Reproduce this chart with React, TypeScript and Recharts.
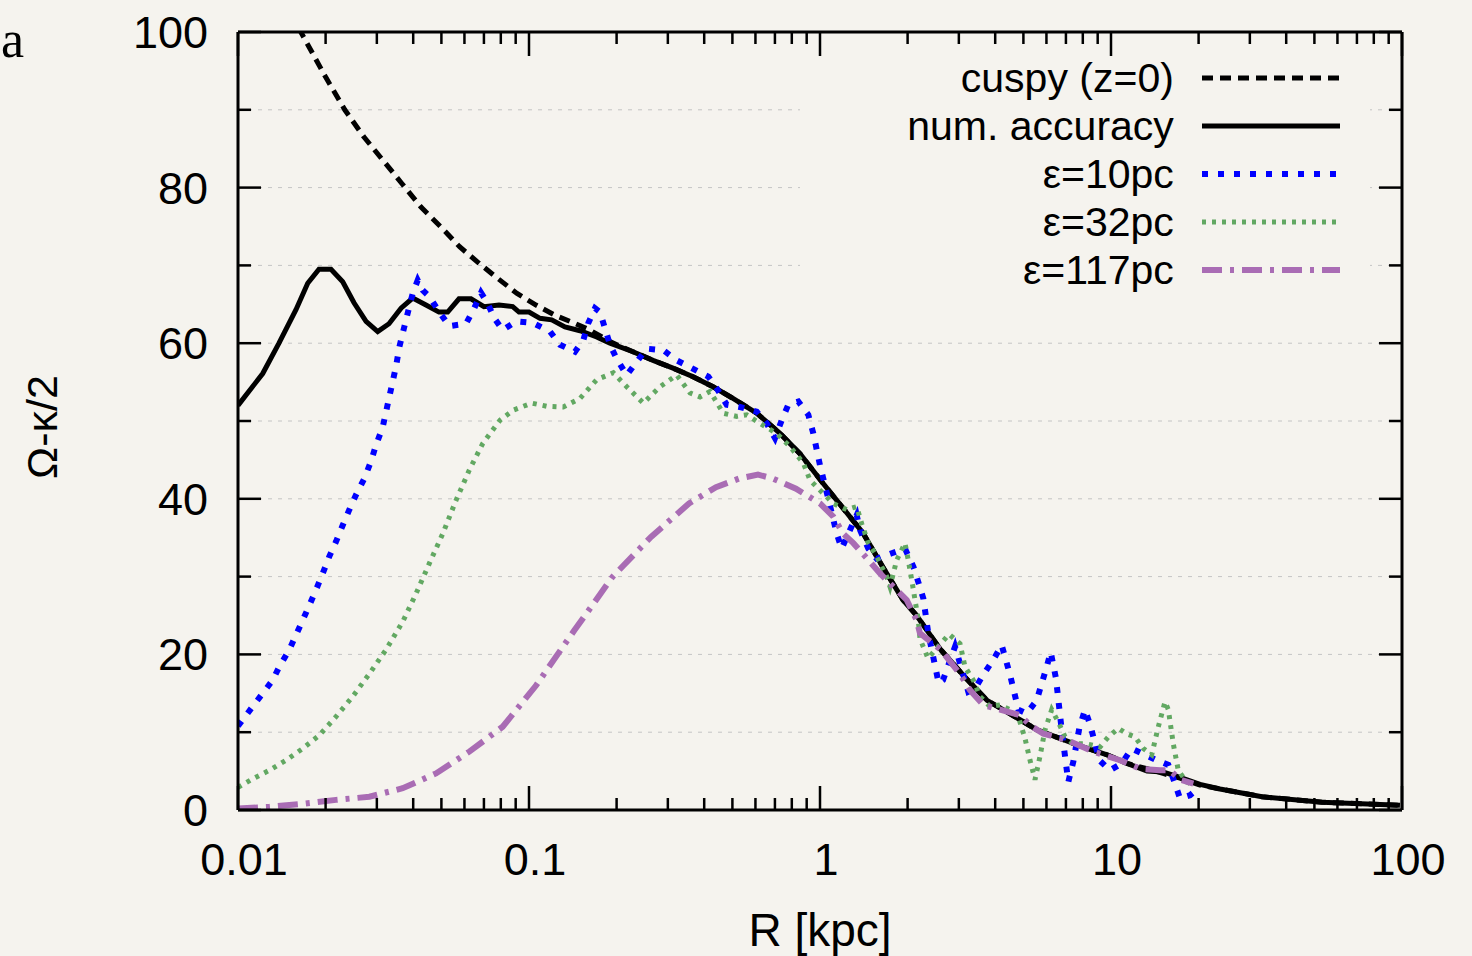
import { LineChart, Line, XAxis, YAxis, CartesianGrid } from 'recharts';

const BG = '#f5f3ee';
const FONT = '"Liberation Sans", Arial, Helvetica, sans-serif';

// [R (kpc), Omega - kappa/2]
const cuspy: [number, number][] = [
  [0.01509, 102.6], [0.01644, 100], [0.02001, 94.2], [0.02328, 90.0], [0.0271, 86.5],
  [0.0315, 83.5], [0.03662, 80.5], [0.04255, 77.5], [0.04964, 75.0], [0.05774, 72.4],
  [0.06722, 70.3], [0.07826, 68.3], [0.09095, 66.4], [0.1057, 64.9], [0.1228, 63.6],
  [0.1427, 62.6], [0.1617, 61.7], [0.1898, 60.2], [0.2277, 58.9], [0.2668, 57.8],
  [0.3125, 56.8], [0.3661, 55.7], [0.429, 54.4], [0.5023, 52.9], [0.6062, 51.0],
  [0.7288, 48.4], [0.8536, 45.8], [1.024, 42.0], [1.2, 38.8], [1.405, 35.6],
  [1.646, 31.2], [1.929, 27.0], [2.148, 25.0], [2.445, 22.0], [2.599, 20.6],
  [3.145, 17.1], [3.75, 14.1], [4.255, 12.9], [4.867, 11.6], [5.568, 10.3],
  [6.678, 9.2], [8.013, 8.1], [9.69, 7.1], [11.35, 6.0], [13.3, 5.3], [15.09, 4.7],
  [17.26, 4.1], [20.23, 3.2], [23.69, 2.7], [33.03, 1.7], [53.09, 1.0], [98.4, 0.6],
];

const numAccuracy: [number, number][] = [
  [0.01, 52.0], [0.01216, 56.1], [0.01383, 60.0], [0.01582, 64.3], [0.01736, 67.7],
  [0.01898, 69.5], [0.02087, 69.5], [0.0229, 67.9], [0.02504, 65.2], [0.02754, 62.8],
  [0.03021, 61.5], [0.03303, 62.5], [0.03633, 64.5], [0.03985, 65.8], [0.04426, 64.9],
  [0.04905, 64.0], [0.05255, 64.0], [0.05747, 65.7], [0.06319, 65.7], [0.07004, 64.7],
  [0.07887, 64.9], [0.0879, 64.7], [0.0924, 64.0], [0.1, 64.0], [0.1091, 63.2],
  [0.1197, 63.0], [0.1329, 62.1], [0.1497, 61.6], [0.1708, 60.8], [0.1898, 60.0],
  [0.2277, 58.9], [0.2668, 57.8], [0.3125, 56.8], [0.3661, 55.7], [0.429, 54.4],
  [0.5023, 52.9], [0.6062, 51.0], [0.7288, 48.4], [0.8536, 45.8], [1.024, 42.0],
  [1.2, 38.8], [1.405, 35.6], [1.646, 31.2], [1.929, 27.0], [2.148, 25.0],
  [2.445, 22.0], [2.599, 20.6], [3.145, 17.1], [3.75, 14.1], [4.255, 12.9],
  [4.867, 11.6], [5.568, 10.3], [6.678, 9.2], [8.013, 8.1], [9.69, 7.1],
  [11.35, 6.0], [13.3, 5.0], [15.09, 4.9], [17.26, 4.2], [20.23, 3.3],
  [23.69, 2.7], [33.03, 1.7], [53.09, 1.0], [98.4, 0.6],
];

const eps10: [number, number][] = [
  [0.01, 10.8], [0.01123, 13.3], [0.01216, 15.0], [0.01316, 16.7], [0.01386, 18.4],
  [0.01501, 20.6], [0.01582, 22.5], [0.01669, 24.4], [0.01758, 26.3], [0.01854, 28.3],
  [0.01955, 30.4], [0.0206, 32.6], [0.02172, 34.5], [0.0229, 36.6], [0.02413, 38.6],
  [0.02544, 40.5], [0.02716, 42.6], [0.02864, 44.8], [0.0298, 46.9], [0.03142, 49.2],
  [0.03311, 53.1], [0.03491, 57.0], [0.03584, 59.5], [0.03728, 62.1], [0.03879, 64.7],
  [0.03985, 66.4], [0.04145, 68.1], [0.04312, 66.8], [0.04545, 66.0], [0.04918, 64.0],
  [0.05322, 62.2], [0.06074, 62.5], [0.06486, 64.5], [0.06841, 66.5], [0.07213, 65.1],
  [0.076, 63.2], [0.08121, 61.7], [0.09022, 62.8], [0.1032, 62.6], [0.1181, 61.5],
  [0.1278, 59.8], [0.1439, 58.9], [0.1537, 60.4], [0.1599, 62.6], [0.1686, 64.5],
  [0.1754, 64.0], [0.1825, 61.9], [0.1898, 59.8], [0.2001, 58.0], [0.2167, 55.9],
  [0.2345, 57.6], [0.2538, 59.3], [0.2894, 59.1], [0.3218, 57.8], [0.3624, 56.8],
  [0.4133, 55.7], [0.4416, 54.2], [0.478, 52.1], [0.5311, 51.8], [0.6062, 51.2],
  [0.6558, 49.7], [0.7005, 47.8], [0.7387, 50.1], [0.7784, 52.1], [0.8423, 52.5],
  [0.9117, 50.8], [0.9484, 48.4], [1.0, 44.3], [1.068, 40.0], [1.142, 35.5],
  [1.187, 33.6], [1.268, 36.0], [1.337, 37.9], [1.372, 36.0], [1.466, 33.6],
  [1.566, 32.3], [1.764, 33.0], [1.959, 33.6], [2.093, 31.3], [2.177, 29.3],
  [2.265, 27.2], [2.356, 22.7], [2.558, 16.3], [2.647, 16.7], [2.911, 21.0],
  [3.233, 15.2], [3.409, 15.6], [3.641, 17.4], [3.939, 19.3], [4.21, 21.2],
  [4.497, 17.4], [4.803, 12.9], [5.132, 12.4], [5.556, 14.1], [6.012, 18.4],
  [6.206, 20.3], [6.471, 16.9], [6.769, 10.3], [7.133, 3.6], [7.42, 6.2],
  [7.78, 10.5], [8.14, 12.9], [8.52, 10.7], [9.12, 6.4], [9.92, 5.1],
  [10.89, 6.0], [11.78, 7.9], [12.75, 7.3], [14.35, 6.4], [15.74, 5.8],
  [16.59, 3.4], [17.26, 1.5], [18.69, 1.9], [19.7, 2.6],
];

const eps32: [number, number][] = [
  [0.01, 2.9], [0.01123, 4.0], [0.01281, 5.1], [0.01462, 6.4], [0.01669, 7.9],
  [0.01903, 9.6], [0.02172, 12.0], [0.02479, 14.6], [0.02827, 17.5], [0.03226, 20.6],
  [0.03681, 24.2], [0.0409, 27.8], [0.04545, 31.7], [0.05052, 35.5], [0.05613, 39.8],
  [0.06235, 43.7], [0.06933, 47.1], [0.07949, 50.1], [0.08833, 51.4], [0.1022, 52.3],
  [0.115, 51.9], [0.1312, 51.8], [0.1497, 52.9], [0.1708, 55.3], [0.1949, 56.2],
  [0.2167, 54.4], [0.2471, 52.3], [0.2819, 54.4], [0.3218, 55.9], [0.3576, 53.6],
  [0.3869, 53.1], [0.4188, 53.8], [0.4653, 51.0], [0.5172, 50.6], [0.5599, 50.8],
  [0.6219, 49.7], [0.7099, 48.4], [0.7887, 46.7], [0.8762, 44.6], [0.9238, 42.4],
  [1.0, 41.1], [1.111, 39.4], [1.236, 38.6], [1.337, 39.0], [1.391, 36.8],
  [1.466, 34.3], [1.545, 33.0], [1.695, 30.0], [1.74, 28.7], [1.834, 32.1],
  [1.959, 34.3], [2.011, 32.1], [2.066, 29.6], [2.121, 27.0], [2.177, 24.4],
  [2.206, 22.0], [2.35, 19.5], [2.775, 22.6], [3.027, 21.4], [3.15, 18.4],
  [3.364, 16.7], [3.546, 14.6], [3.839, 13.3], [4.155, 13.5], [4.497, 12.9],
  [4.803, 12.0], [5.064, 9.2], [5.268, 6.4], [5.481, 3.9], [5.702, 6.9],
  [5.932, 10.3], [6.256, 12.9], [6.592, 11.3], [6.95, 9.4], [7.42, 8.5],
  [8.25, 8.5], [9.17, 8.1], [9.79, 9.4], [10.6, 10.5], [11.32, 9.8],
  [12.09, 9.4], [12.91, 7.9], [13.8, 7.1], [14.54, 10.7], [15.33, 13.9],
  [15.74, 12.9], [16.37, 8.5], [17.03, 5.1], [18.2, 3.6], [19.18, 3.2],
];

const eps117: [number, number][] = [
  [0.01, 0.2], [0.01281, 0.4], [0.01669, 0.8], [0.02172, 1.3], [0.02827, 1.7],
  [0.03681, 2.8], [0.04791, 4.7], [0.06235, 7.5], [0.08121, 10.7], [0.1057, 16.0],
  [0.1432, 23.1], [0.194, 30.0], [0.2626, 35.1], [0.3547, 39.4], [0.4392, 41.5],
  [0.5268, 42.6], [0.6123, 43.1], [0.6894, 42.6], [0.827, 41.3], [1.0, 39.4],
  [1.111, 37.7], [1.203, 35.5], [1.302, 34.3], [1.485, 31.9], [1.608, 30.4],
  [1.786, 28.7], [1.986, 27.0], [2.148, 24.4], [2.206, 22.7], [2.599, 20.6],
  [3.027, 17.5], [3.277, 15.4], [3.641, 13.5], [4.155, 12.9], [4.867, 12.2],
  [5.268, 10.9], [5.854, 9.8], [7.045, 9.0], [8.695, 7.5], [10.74, 6.4],
  [12.58, 5.3], [14.74, 5.1], [15.95, 5.1], [17.26, 3.9], [19.18, 3.4],
];

const xMajorTicks = [0.01, 0.1, 1, 10, 100];
const xMinorSteps = [2, 3, 4, 5, 6, 7, 8, 9];
const yTicks = [0, 10, 20, 30, 40, 50, 60, 70, 80, 90, 100];
const yLabelTicks = [0, 20, 40, 60, 80, 100];

const xTicks = [
  ...xMajorTicks,
  ...xMajorTicks.slice(0, -1).flatMap((d) => xMinorSteps.map((k) => d * k)),
].sort((a, b) => a - b);

const series = [
  { key: 'cuspy', name: 'cuspy (z=0)', data: cuspy, color: '#000000', width: 5, dash: '11 7' },
  { key: 'num', name: 'num. accuracy', data: numAccuracy, color: '#000000', width: 5, dash: undefined },
  { key: 'e10', name: 'ε=10pc', data: eps10, color: '#0000ff', width: 6, dash: '6 10' },
  { key: 'e32', name: 'ε=32pc', data: eps32, color: '#62a862', width: 5, dash: '4 6' },
  { key: 'e117', name: 'ε=117pc', data: eps117, color: '#a96cb4', width: 6, dash: '20 8 4 8' },
];

const isMajorX = (v: number) => xMajorTicks.includes(v);

const XTickBottom = (props: any) => {
  const { x, y, payload } = props;
  const major = isMajorX(payload.value);
  return (
    <g>
      <line x1={x} x2={x} y1={y} y2={y - (major ? 24 : 12)} stroke='#000' strokeWidth={2.5} />
      {major && (
        <text x={x + 6} y={y + 65} textAnchor='middle' fontSize={45} fontFamily={FONT} fill='#000'>
          {String(payload.value)}
        </text>
      )}
    </g>
  );
};

const XTickTop = (props: any) => {
  const { x, y, payload } = props;
  const major = isMajorX(payload.value);
  return <line x1={x} x2={x} y1={y} y2={y + (major ? 24 : 12)} stroke='#000' strokeWidth={2.5} />;
};

const YTickLeft = (props: any) => {
  const { x, y, payload } = props;
  const major = yLabelTicks.includes(payload.value);
  return (
    <g>
      <line x1={x} x2={x + (major ? 23 : 13)} y1={y} y2={y} stroke='#000' strokeWidth={2.5} />
      {major && (
        <text x={x - 30} y={y + 16} textAnchor='end' fontSize={45} fontFamily={FONT} fill='#000'>
          {payload.value}
        </text>
      )}
    </g>
  );
};

const YTickRight = (props: any) => {
  const { x, y, payload } = props;
  const major = yLabelTicks.includes(payload.value);
  return <line x1={x} x2={x - (major ? 23 : 13)} y1={y} y2={y} stroke='#000' strokeWidth={2.5} />;
};

const LegendBox = () => (
  <div
    style={{
      position: 'absolute',
      left: 800,
      top: 58,
      width: 570,
      height: 238,
      background: BG,
      fontFamily: FONT,
      fontSize: 41,
      color: '#000',
    }}
  >
    <div style={{ marginTop: -4 }}>
      {series.map((s) => (
        <div key={s.key} style={{ display: 'flex', alignItems: 'center', height: 48 }}>
          <div style={{ width: 378, textAlign: 'right', lineHeight: '48px', whiteSpace: 'nowrap' }}>
            {s.name}
          </div>
          <svg width={170} height={48} style={{ marginLeft: 28 }}>
            <line
              x1={0}
              x2={138}
              y1={24}
              y2={24}
              stroke={s.color}
              strokeWidth={s.width}
              strokeDasharray={s.dash}
            />
          </svg>
        </div>
      ))}
    </div>
  </div>
);

export default function App() {
  return (
    <div
      style={{
        position: 'absolute',
        left: 0,
        top: 0,
        width: 1472,
        height: 956,
        background: BG,
        overflow: 'hidden',
      }}
    >
      <LineChart
        width={1472}
        height={956}
        margin={{ top: 31, right: 69, bottom: 145, left: 237 }}
      >
        <CartesianGrid vertical={false} stroke='#c4c4c4' strokeDasharray='4 6' strokeWidth={1} />
        <XAxis
          dataKey='r'
          type='number'
          scale='log'
          domain={[0.01, 100]}
          allowDataOverflow
          ticks={xTicks}
          interval={0}
          height={1}
          tickSize={0}
          tickMargin={0}
          tick={(p: any) => <XTickBottom {...p} />}
          axisLine={{ stroke: '#000', strokeWidth: 3 }}
        />
        <XAxis
          xAxisId='top'
          orientation='top'
          dataKey='r'
          type='number'
          scale='log'
          domain={[0.01, 100]}
          allowDataOverflow
          ticks={xTicks}
          interval={0}
          height={1}
          tickSize={0}
          tickMargin={0}
          tick={(p: any) => <XTickTop {...p} />}
          axisLine={{ stroke: '#000', strokeWidth: 3 }}
        />
        <YAxis
          type='number'
          domain={[0, 100]}
          allowDataOverflow
          ticks={yTicks}
          interval={0}
          width={1}
          tickSize={0}
          tickMargin={0}
          tick={(p: any) => <YTickLeft {...p} />}
          axisLine={{ stroke: '#000', strokeWidth: 3 }}
        />
        <YAxis
          yAxisId='right'
          orientation='right'
          type='number'
          domain={[0, 100]}
          allowDataOverflow
          ticks={yTicks}
          interval={0}
          width={1}
          tickSize={0}
          tickMargin={0}
          tick={(p: any) => <YTickRight {...p} />}
          axisLine={{ stroke: '#000', strokeWidth: 3 }}
        />
        {series.map((s) => (
          <Line
            key={s.key}
            name={s.name}
            data={s.data.map(([r, v]) => ({ r, v }))}
            dataKey='v'
            type='linear'
            stroke={s.color}
            strokeWidth={s.width}
            strokeDasharray={s.dash}
            strokeLinecap='butt'
            strokeLinejoin='miter'
            dot={false}
            activeDot={false}
            isAnimationActive={false}
          />
        ))}
        <text x={820} y={946} textAnchor='middle' fontSize={46} fontFamily={FONT} fill='#000'>
          R [kpc]
        </text>
        <text
          x={57}
          y={427}
          textAnchor='middle'
          fontSize={43}
          fontFamily={FONT}
          fill='#000'
          transform='rotate(-90 57 427)'
        >
          Ω-κ/2
        </text>
        <text x={1} y={57} fontSize={52} fontFamily='"Liberation Serif", "Times New Roman", serif' fill='#000'>
          a
        </text>
      </LineChart>
      <LegendBox />
    </div>
  );
}
